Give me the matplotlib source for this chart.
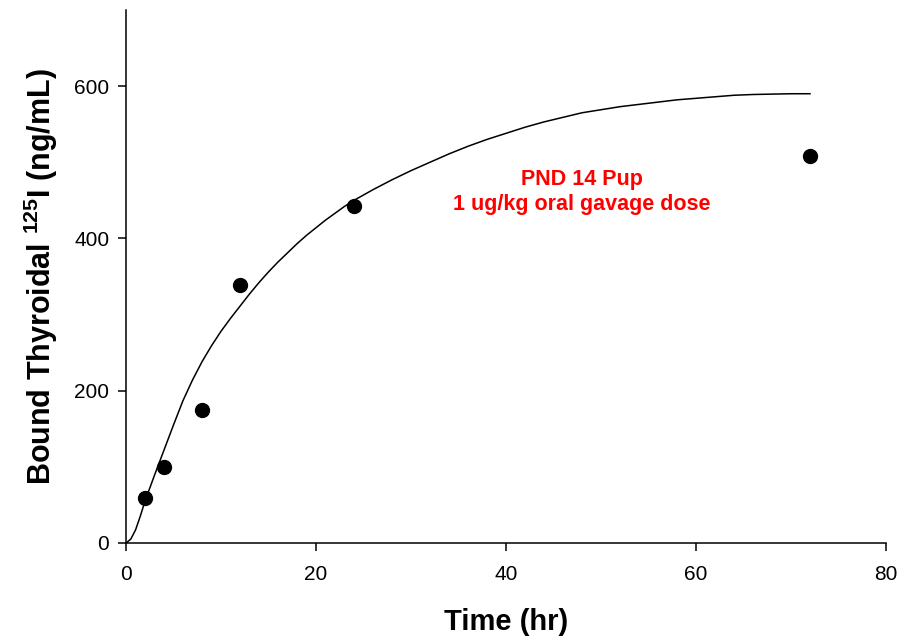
import matplotlib
matplotlib.use("Agg")
import matplotlib.pyplot as plt

plt.rcParams['font.family'] = ['Liberation Sans', 'DejaVu Sans']
plt.rcParams['mathtext.fontset'] = 'custom'
plt.rcParams['mathtext.rm'] = 'Liberation Sans:bold'
plt.rcParams['mathtext.bf'] = 'Liberation Sans:bold'

# measured thyroidal 125I
time_obs = [2, 4, 8, 12, 24, 72]
conc_obs = [59, 100, 174, 339, 443, 508]

# model curve
time_fit = [0, 0.5, 1, 1.5, 2, 3, 4, 5, 6, 7, 8, 9, 10, 11, 12, 13, 14, 15, 16,
            17, 18, 19, 20, 21, 22, 23, 24, 26, 28, 30, 32, 34, 36, 38, 40, 42,
            44, 46, 48, 50, 52, 54, 56, 58, 60, 62, 64, 66, 68, 70, 72]
conc_fit = [0, 5, 17, 35, 55, 89, 122, 155, 187, 214, 238, 259, 278, 295, 311,
            327, 342, 356, 369, 381, 393, 404, 414, 424, 433, 442, 450, 464, 477,
            489, 500, 511, 521, 530, 538, 546, 553, 559, 565, 569, 573, 576, 579,
            582, 584, 586, 588, 589, 589.5, 590, 590]

label_txt = 'PND 14 Pup\n1 ug/kg oral gavage dose'

fig = plt.figure(figsize=(9, 6.4), dpi=100)
ax = fig.add_axes([0.14, 0.1516, 0.8444, 0.8328])

ax.plot(time_fit, conc_fit, color='black', lw=1.1)
ax.plot(time_obs, conc_obs, 'o', color='black', ms=10, clip_on=False)

ax.text(48.0, 461, label_txt, color='#ff0000', fontsize=15.5, fontweight='bold',
        ha='center', va='center', linespacing=1.2)

ax.set_xlim(0, 80)
ax.set_ylim(0, 700)
ax.set_xticks([0, 20, 40, 60, 80])
ax.set_yticks([0, 200, 400, 600])
for side in ['top', 'right']:
    ax.spines[side].set_visible(False)
for side in ['left', 'bottom']:
    ax.spines[side].set_linewidth(1.1)
ax.tick_params(axis='both', labelsize=15, width=1.1, length=6, direction='out')
ax.tick_params(axis='x', pad=10)
ax.tick_params(axis='y', pad=6)

ax.set_xlabel('Time (hr)', fontsize=21, fontweight='bold', labelpad=17)
ax.set_ylabel(r'Bound Thyroidal $^{\mathbf{125}}$I (ng/mL)', fontsize=22,
              fontweight='bold', labelpad=10)

fig.savefig('out.png', dpi=100)
